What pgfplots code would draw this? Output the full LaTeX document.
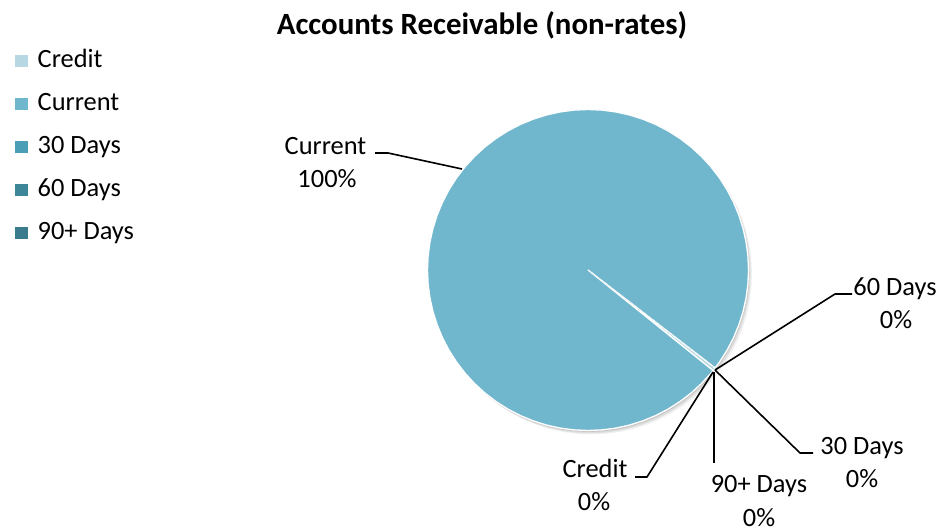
\documentclass[border=0pt]{standalone}
\usepackage{pgfplots}
\pgfplotsset{compat=1.18}
\usepackage{pgfplotstable}
\usepackage{fontspec}
\setmainfont{Carlito}
\definecolor{cCredit}{HTML}{B7D7E3}
\definecolor{cCurrent}{HTML}{70B6CC}
\definecolor{cThirty}{HTML}{4A9EB5}
\definecolor{cSixty}{HTML}{3D8697}
\definecolor{cNinety}{HTML}{3A7C8D}
% Current slice outline (angle in degrees, radius)
\pgfplotstableread[row sep=\\]{
a r\\
0 0\\ -37.6 160.5\\ -35 160.5\\ -30 160.5\\ -25 160.5\\ -20 160.5\\ -15 160.5\\ -10 160.5\\ -5 160.5\\
0 160.5\\ 5 160.5\\ 10 160.5\\ 15 160.5\\ 20 160.5\\ 25 160.5\\ 30 160.5\\ 35 160.5\\ 40 160.5\\ 45 160.5\\
50 160.5\\ 55 160.5\\ 60 160.5\\ 65 160.5\\ 70 160.5\\ 75 160.5\\ 80 160.5\\ 85 160.5\\ 90 160.5\\ 95 160.5\\
100 160.5\\ 105 160.5\\ 110 160.5\\ 115 160.5\\ 120 160.5\\ 125 160.5\\ 130 160.5\\ 135 160.5\\ 140 160.5\\ 145 160.5\\
150 160.5\\ 155 160.5\\ 160 160.5\\ 165 160.5\\ 170 160.5\\ 175 160.5\\ 180 160.5\\ 185 160.5\\ 190 160.5\\ 195 160.5\\
200 160.5\\ 205 160.5\\ 210 160.5\\ 215 160.5\\ 220 160.5\\ 225 160.5\\ 230 160.5\\ 235 160.5\\ 240 160.5\\ 245 160.5\\
250 160.5\\ 255 160.5\\ 260 160.5\\ 265 160.5\\ 270 160.5\\ 275 160.5\\ 280 160.5\\ 285 160.5\\ 290 160.5\\ 295 160.5\\
300 160.5\\ 305 160.5\\ 310 160.5\\ 315 160.5\\ 320 160.5\\ 321.2 160.5\\ 0 0\\
}\currenttab
\pgfplotstableread[row sep=\\]{
a r\\
0 0\\ -38.8 160.5\\ -38.2 160.5\\ -37.6 160.5\\ 0 0\\
}\credittab
\begin{document}
\begin{tikzpicture}
\useasboundingbox (0,0) rectangle (942bp,532bp);
\begin{axis}[
  at={(0,0)}, anchor=south west,
  scale only axis, width=942bp, height=532bp,
  xmin=-588, xmax=354, ymin=-262, ymax=270,
  hide axis, clip=false,
  legend cell align=left,
  legend style={at={(axis cs:-573,221)}, anchor=north west, draw=none, fill=none,
    inner sep=0pt, row sep=18bp, column sep=10bp,
    font=\fontsize{26.5}{33}\selectfont,
    nodes={inner sep=0pt, text height=18bp, text depth=7bp}},
  legend image code/.code={\fill[#1,draw=none] (0bp,-5.5bp) rectangle (12.5bp,7bp);},
]
% soft shadow
\addplot[forget plot, data cs=polar, fill=black, fill opacity=0.06, draw=none, xshift=3.5bp, yshift=-4bp] table {\currenttab};
\addplot[forget plot, data cs=polar, fill=black, fill opacity=0.08, draw=none, xshift=2.2bp, yshift=-2.8bp] table {\currenttab};
\addplot[forget plot, data cs=polar, fill=black, fill opacity=0.10, draw=none, xshift=1bp, yshift=-1.5bp] table {\currenttab};
% slices
\addplot[data cs=polar, fill=cCredit, draw=white, line width=1bp, line join=round] table {\credittab};
\addplot[data cs=polar, fill=cCurrent, draw=white, line width=1.3bp, line join=round] table {\currenttab};
\addplot[data cs=polar, fill=cThirty, draw=white, line width=0.6bp] coordinates {(0,0) (-37.6,160.5) (0,0)};
\addplot[data cs=polar, fill=cSixty, draw=white, line width=0.6bp] coordinates {(0,0) (-37.6,160.5) (0,0)};
\addplot[data cs=polar, fill=cNinety, draw=white, line width=0.6bp] coordinates {(0,0) (-37.6,160.5) (0,0)};
\legend{Credit, Current, 30 Days, 60 Days, 90+ Days}
% title
\node[anchor=base, font=\bfseries\fontsize{31}{37}\selectfont] at (axis cs:-106,235.7) {Accounts Receivable (non-rates)};
% leader lines
\begin{scope}[line width=1.6bp, line join=round]
\draw (axis cs:-213,117) -- (axis cs:-200,117) -- (axis cs:-126,101);
\draw (axis cs:264,-24) -- (axis cs:247,-24) -- (axis cs:127,-100);
\draw (axis cs:225,-183) -- (axis cs:212,-183) -- (axis cs:127,-100);
\draw (axis cs:126,-193) -- (axis cs:126,-102);
\draw (axis cs:47,-207) -- (axis cs:59,-207) -- (axis cs:125,-102);
\end{scope}
% data labels
\begin{scope}[every node/.style={anchor=base, inner sep=0pt, font=\fontsize{26.5}{33}\selectfont}]
\node at (axis cs:-262.5,115) {Current};
\node at (axis cs:-261,82) {100\%};
\node at (axis cs:307,-26) {60 Days};
\node at (axis cs:308,-59) {0\%};
\node at (axis cs:274,-185) {30 Days};
\node at (axis cs:274,-218) {0\%};
\node at (axis cs:171,-223) {90+ Days};
\node at (axis cs:171,-256) {0\%};
\node at (axis cs:7,-208) {Credit};
\node at (axis cs:6,-240) {0\%};
\end{scope}
\end{axis}
\end{tikzpicture}
\end{document}
